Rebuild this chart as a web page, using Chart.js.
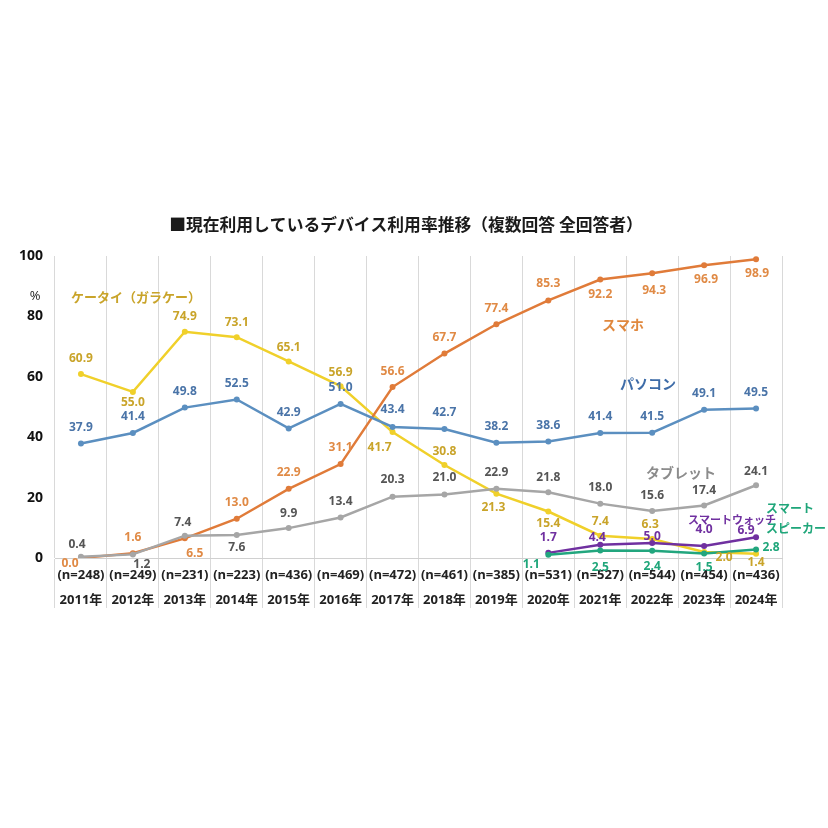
<!DOCTYPE html>
<html>
<head>
<meta charset="utf-8">
<script src="https://cdn.jsdelivr.net/npm/chart.js@4.4.1/dist/chart.umd.min.js"></script>
<style>
  html, body { margin: 0; padding: 0; background: #fff; }
</style>
</head>
<body>
<canvas id="myChart" width="828" height="828"></canvas>
<script>
// Daten
const years = ['2011年', '2012年', '2013年', '2014年', '2015年', '2016年', '2017年',
               '2018年', '2019年', '2020年', '2021年', '2022年', '2023年', '2024年'];
const sampleSizes = ['(n=248)', '(n=249)', '(n=231)', '(n=223)', '(n=436)', '(n=469)', '(n=472)',
                     '(n=461)', '(n=385)', '(n=531)', '(n=527)', '(n=544)', '(n=454)', '(n=436)'];
const yTicks = [0, 20, 40, 60, 80, 100];

const keitai     = [60.9, 55.0, 74.9, 73.1, 65.1, 56.9, 41.7, 30.8, 21.3, 15.4, 7.4, 6.3, 2.0, 1.4];
const smartphone = [0.0, 1.6, 6.5, 13.0, 22.9, 31.1, 56.6, 67.7, 77.4, 85.3, 92.2, 94.3, 96.9, 98.9];
const pc         = [37.9, 41.4, 49.8, 52.5, 42.9, 51.0, 43.4, 42.7, 38.2, 38.6, 41.4, 41.5, 49.1, 49.5];
const tablet     = [0.4, 1.2, 7.4, 7.6, 9.9, 13.4, 20.3, 21.0, 22.9, 21.8, 18.0, 15.6, 17.4, 24.1];
const watch      = [null, null, null, null, null, null, null, null, null, 1.7, 4.4, 5.0, 4.0, 6.9];
const speaker    = [null, null, null, null, null, null, null, null, null, 1.1, 2.5, 2.4, 1.5, 2.8];

// Beschriftungs-Versatz (dx, dy) pro Punkt
const keitaiOffset = [[0,-16],[0,11],[0,-15],[0,-15],[0,-14],[0,-14],[-13,16],[0,-13],[-3,14],[0,12],[0,-14],[-2,-14],[20,6],[0,9]];
const smartOffset  = [[-11,6],[0,-16],[10,15],[0,-16],[0,-16],[0,-16],[0,-15],[0,-16],[0,-16],[0,-17],[0,15],[2,17],[2,14],[1,14]];
const pcOffset     = [[0,-16],[0,-16],[0,-16],[0,-16],[0,-16],[0,-16],[0,-17],[0,-16],[0,-16],[0,-16],[0,-16],[0,-16],[0,-16],[0,-16]];
const tabletOffset = [[-4,-12],[9,10],[-2,-13],[0,13],[0,-15],[0,-16],[0,-17],[0,-17],[0,-16],[0,-15],[0,-16],[0,-15],[0,-15],[0,-14]];
const watchOffset  = [null,null,null,null,null,null,null,null,null,[0,-15],[-3,-7],[0,-6],[0,-16],[-10,-7]];
const speakerOffset= [null,null,null,null,null,null,null,null,null,[-17,10],[0,17],[0,16],[0,14],[15,-2]];

const numFont = 'bold 12px "Open Sans", "Noto Sans CJK JP", sans-serif';

function makeSet(label, data, lineColor, textColor, offsets) {
    return {
        label: label,
        data: data,
        borderColor: lineColor,
        backgroundColor: lineColor,
        borderWidth: 2.5,
        pointRadius: 3,
        pointBackgroundColor: lineColor,
        pointBorderWidth: 0,
        tension: 0,
        spanGaps: false,
        textColor: textColor,
        offsets: offsets
    };
}

// Wertebeschriftung + Reihennamen
const labelPlugin = {
    id: 'labelPlugin',
    afterDatasetsDraw(chart) {
        const ctx = chart.ctx;
        ctx.save();
        ctx.font = numFont;
        ctx.textAlign = 'center';
        ctx.textBaseline = 'middle';
        chart.data.datasets.forEach((ds, di) => {
            const meta = chart.getDatasetMeta(di);
            meta.data.forEach((pt, i) => {
                const v = ds.data[i];
                if (v === null || v === undefined) return;
                const off = ds.offsets[i] || [0, -16];
                ctx.fillStyle = ds.textColor;
                ctx.fillText(v.toFixed(1), pt.x + off[0], pt.y + off[1]);
            });
        });
        ctx.restore();
    },
    afterDraw(chart) {
        const ctx = chart.ctx;
        ctx.save();
        ctx.textBaseline = 'middle';
        ctx.textAlign = 'center';
        // Titel
        ctx.fillStyle = '#1a1a1a';
        ctx.font = 'bold 16.8px "Noto Sans CJK JP", sans-serif';
        ctx.fillText('■現在利用しているデバイス利用率推移（複数回答 全回答者）', 406, 225);
        // Einheit
        ctx.font = '13px "Open Sans", sans-serif';
        ctx.fillStyle = '#222';
        ctx.fillText('%', 35, 296);
        // Reihennamen
        ctx.textAlign = 'left';
        ctx.font = 'bold 13px "Noto Sans CJK JP", sans-serif';
        ctx.fillStyle = '#C9A42A';
        ctx.fillText('ケータイ（ガラケー）', 71, 297);
        ctx.font = 'bold 14px "Noto Sans CJK JP", sans-serif';
        ctx.fillStyle = '#E0883E';
        ctx.fillText('スマホ', 602, 325);
        ctx.fillStyle = '#3E6CA8';
        ctx.fillText('パソコン', 620, 384);
        ctx.fillStyle = '#8C8C8C';
        ctx.fillText('タブレット', 646, 473);
        ctx.font = 'bold 11px "Noto Sans CJK JP", sans-serif';
        ctx.fillStyle = '#7030A0';
        ctx.fillText('スマートウォッチ', 688, 520);
        ctx.font = 'bold 12px "Noto Sans CJK JP", sans-serif';
        ctx.fillStyle = '#1FA67A';
        ctx.fillText('スマート', 766, 508);
        ctx.fillText('スピーカー', 766, 528);
        ctx.restore();
    }
};

const config = {
    type: 'line',
    data: {
        labels: years.map((y, i) => [sampleSizes[i], y]),
        datasets: [
            makeSet('スマートスピーカー', speaker, '#22A67E', '#1FA67A', speakerOffset),
            makeSet('スマートウォッチ', watch, '#7030A0', '#7030A0', watchOffset),
            makeSet('タブレット', tablet, '#A6A6A6', '#555555', tabletOffset),
            makeSet('パソコン', pc, '#5B8FC0', '#4A74A8', pcOffset),
            makeSet('スマホ', smartphone, '#E07B39', '#E08A45', smartOffset),
            makeSet('ケータイ（ガラケー）', keitai, '#F0D02A', '#C9A42A', keitaiOffset)
        ]
    },
    options: {
        responsive: false,
        animation: false,
        devicePixelRatio: 1,
        layout: { padding: { top: 256, right: 46, bottom: 210, left: 0 } },
        plugins: {
            legend: { display: false },
            title: { display: false },
            tooltip: { enabled: false }
        },
        scales: {
            x: {
                offset: true,
                grid: { offset: true, color: '#D9D9D9', lineWidth: 1, tickLength: 50, drawOnChartArea: true },
                border: { display: true, color: '#D0D0D0' },
                ticks: {
                    color: '#222',
                    padding: -45.5,
                    maxRotation: 0,
                    autoSkip: false,
                    font: { family: '"Open Sans", "Noto Sans CJK JP", sans-serif', size: 13, weight: 'bold', lineHeight: '25px' }
                },
                afterFit(scale) { scale.height = 60; }
            },
            y: {
                min: 0,
                max: 100,
                afterBuildTicks(scale) { scale.ticks = yTicks.map(v => ({ value: v })); },
                grid: { display: false, drawTicks: false },
                border: { display: false },
                ticks: {
                    color: '#111',
                    padding: 12,
                    font: { family: '"Open Sans", sans-serif', size: 14, weight: 'bold' }
                },
                afterFit(scale) { scale.width = 55; }
            }
        }
    },
    plugins: [labelPlugin]
};

const ctx = document.querySelector('#myChart').getContext('2d');
new Chart(ctx, config);
</script>
</body>
</html>
